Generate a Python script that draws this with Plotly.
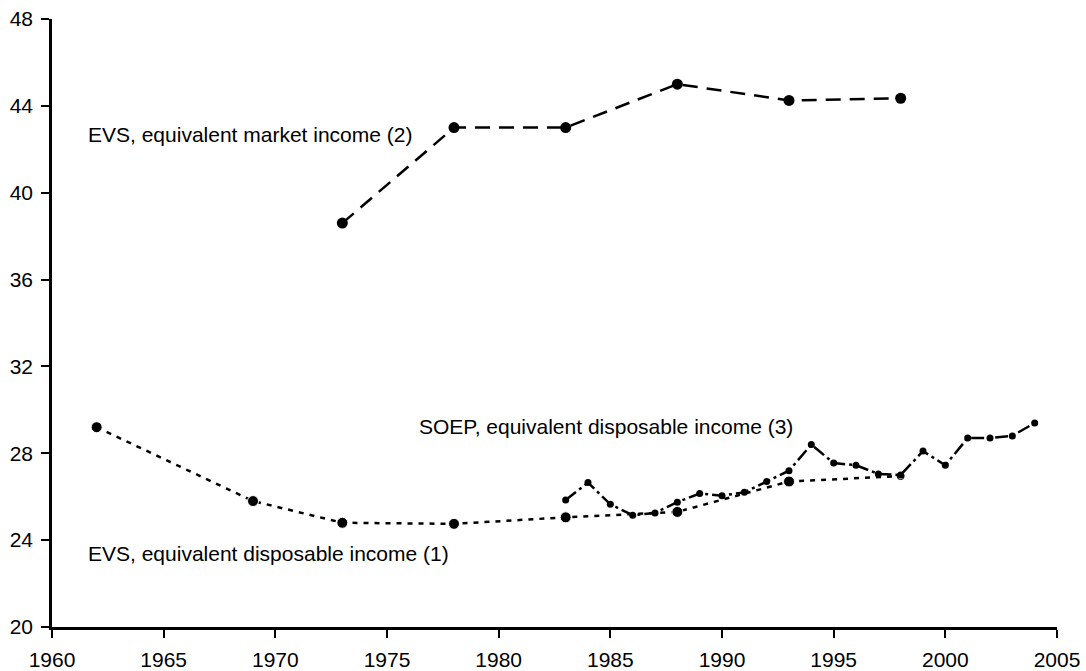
import plotly.graph_objects as go

evs_years = [1962, 1969, 1973, 1978, 1983, 1988, 1993, 1998]
evs_disp = [29.2, 25.8, 24.8, 24.75, 25.05, 25.3, 26.7, 26.95]

mkt_years = [1973, 1978, 1983, 1988, 1993, 1998]
evs_market = [38.6, 43.0, 43.0, 45.0, 44.25, 44.35]

soep_years = list(range(1983, 2005))
soep_disp = [25.85, 26.65, 25.65, 25.15, 25.25, 25.75, 26.15, 26.05, 26.2, 26.7,
             27.2, 28.4, 27.55, 27.45, 27.05, 27.0, 28.1, 27.45, 28.7, 28.7, 28.8, 29.4]

x_ticks = list(range(1960, 2006, 5))
y_ticks = list(range(20, 49, 4))

labels = [
    ("EVS, equivalent market income (2)", 1961.5, 42.66),
    ("SOEP, equivalent disposable income (3)", 1976.35, 29.25),
    ("EVS, equivalent disposable income (1)", 1961.5, 23.4),
]

FONT = "Liberation Sans, Arial, sans-serif"
FS = 21

fig = go.Figure()
fig.add_trace(go.Scatter(
    x=evs_years, y=evs_disp, mode="lines+markers",
    line=dict(color="black", width=2.5, dash="5px,6px"),
    marker=dict(size=[11] * 7 + [7],
                symbol=["circle"] * 7 + ["circle-open"],
                color="black", opacity=1),
    showlegend=False))
fig.add_trace(go.Scatter(
    x=soep_years, y=soep_disp, mode="lines+markers",
    line=dict(color="black", width=2.5, dash="13px,4px,3px,4px"),
    marker=dict(size=7, color="black"),
    showlegend=False))
fig.add_trace(go.Scatter(
    x=mkt_years, y=evs_market, mode="lines+markers",
    line=dict(color="black", width=2.5, dash="15px,9px"),
    marker=dict(size=11, color="black"),
    showlegend=False))

for text, x, y in labels:
    fig.add_annotation(x=x, y=y, text=text, showarrow=False, xanchor="left",
                       yanchor="middle", font=dict(size=FS, color="black", family=FONT))

fig.update_layout(
    width=1086, height=671,
    margin=dict(l=52, r=29, t=19, b=44, autoexpand=False),
    paper_bgcolor="white", plot_bgcolor="white",
    font=dict(family=FONT, size=FS, color="black"),
)
fig.update_xaxes(range=[1960, 2005], tickvals=x_ticks, showgrid=False, zeroline=False,
                 showline=True, linecolor="black", linewidth=2.5, automargin=False,
                 tickfont=dict(size=FS, family=FONT, color="black"),
                 ticks="outside", ticklen=8, tickwidth=1.5, tickcolor="black",
                 ticklabelstandoff=4)
fig.update_yaxes(range=[20, 48], tickvals=y_ticks, showgrid=False, zeroline=False,
                 showline=True, linecolor="black", linewidth=2.5, automargin=False,
                 tickfont=dict(size=FS, family=FONT, color="black"),
                 ticks="outside", ticklen=8, tickwidth=1.5, tickcolor="black",
                 ticklabelstandoff=4)

fig.write_html("out.html", config={"displayModeBar": False},
               post_script="document.body.style.margin='0';")
